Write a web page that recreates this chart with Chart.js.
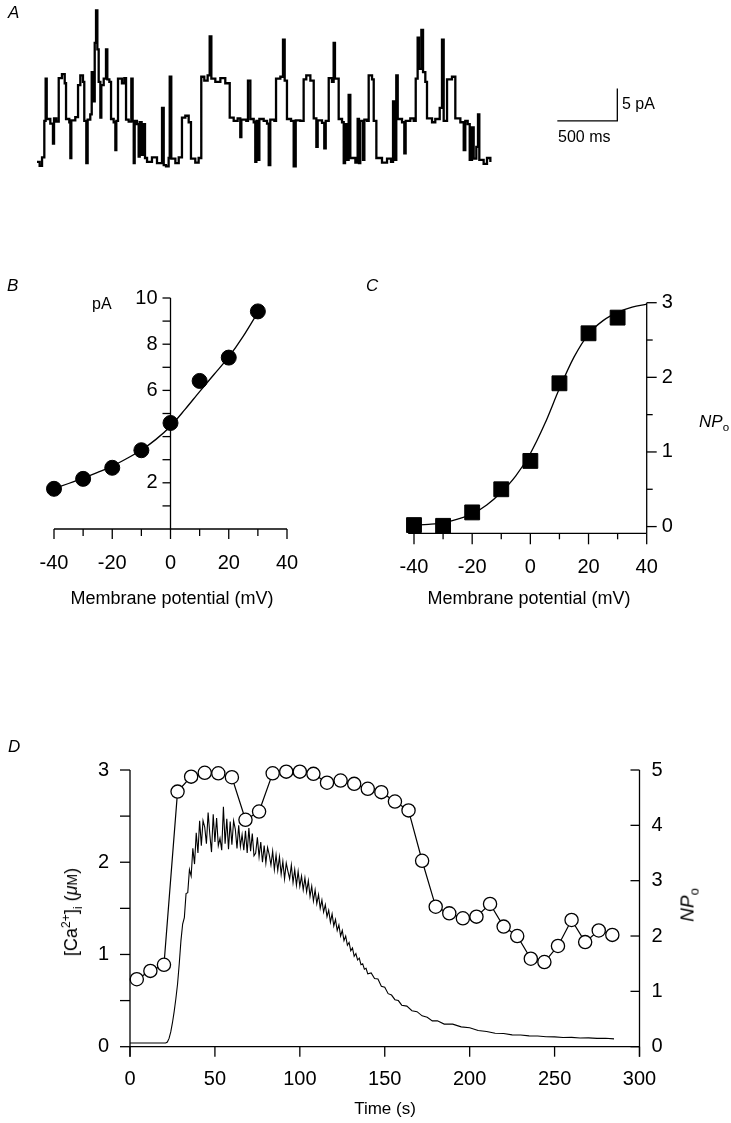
<!DOCTYPE html>
<html>
<head>
<meta charset="utf-8">
<script src="https://cdn.jsdelivr.net/npm/chart.js@4.4.1/dist/chart.umd.min.js"></script>
<style>
  body { margin: 0; background: #fff; width: 731px; height: 1123px; position: relative; overflow: hidden; font-family: "Liberation Sans", Arial, sans-serif; color: #000; }
  canvas { position: absolute; }
  .t { position: absolute; white-space: nowrap; line-height: 1; z-index: 2; }
  .t sup, .t sub { font-size: 68%; line-height: 0; }
  .lbl { font-style: italic; font-size: 17px; }
</style>
</head>
<body>
<canvas id="chartA" width="731" height="180" style="left:0;top:0"></canvas>
<canvas id="chartB" width="340" height="340" style="left:0;top:270px"></canvas>
<canvas id="chartC" width="391" height="340" style="left:340px;top:270px"></canvas>
<canvas id="chartD" width="731" height="403" style="left:0;top:720px"></canvas>

<div class="t lbl" style="left:8px;top:4px">A</div>
<div class="t" style="left:622px;top:96px;font-size:16px">5 pA</div>
<div class="t" style="left:558px;top:129px;font-size:16px">500 ms</div>

<div class="t lbl" style="left:7px;top:277px">B</div>
<div class="t" style="left:92px;top:296px;font-size:16px">pA</div>
<div class="t" style="left:172px;top:598px;font-size:18px;transform:translate(-50%,-50%)">Membrane potential (mV)</div>

<div class="t lbl" style="left:366px;top:277px">C</div>
<div class="t" style="left:699px;top:413px;font-size:17px"><i>NP</i><sub>o</sub></div>
<div class="t" style="left:529px;top:598px;font-size:18px;transform:translate(-50%,-50%)">Membrane potential (mV)</div>

<div class="t lbl" style="left:8px;top:738px">D</div>
<div class="t" style="left:71px;top:912px;font-size:18px;transform:translate(-50%,-50%) rotate(-90deg)">[Ca<sup>2+</sup>]<sub>i</sub> (<i>&mu;</i><span style="font-size:14px">M</span>)</div>
<div class="t" style="left:687px;top:905px;font-size:19px;transform:translate(-50%,-50%) rotate(-90deg)"><i>NP</i><sub>o</sub></div>
<div class="t" style="left:385px;top:1108px;font-size:17px;transform:translate(-50%,-50%)">Time (s)</div>

<script>
// A: single-channel record, dwell start times (ms) and current (pA)
const aTime = [0,22,42,61,72,81,111,133,142,161,181,208,231,242,269,278,286,319,342,361,383,394,411,422,444,456,467,481,492,503,514,528,536,556,575,586,603,617,639,653,661,675,708,728,742,764,786,797,806,814,833,847,856,872,883,900,917,958,1000,1042,1056,1075,1097,1106,1119,1153,1181,1208,1236,1264,1283,1319,1347,1369,1394,1422,1439,1453,1486,1528,1569,1606,1639,1672,1694,1703,1744,1758,1778,1806,1819,1828,1842,1853,1889,1917,1931,1944,1978,1992,2028,2050,2064,2083,2117,2139,2156,2194,2222,2244,2278,2306,2328,2339,2375,2394,2406,2431,2458,2472,2483,2514,2542,2556,2567,2578,2597,2611,2653,2672,2683,2694,2717,2728,2750,2764,2792,2806,2828,2875,2917,2950,2967,2978,2994,3006,3042,3061,3072,3111,3139,3156,3172,3183,3203,3217,3236,3250,3292,3319,3356,3375,3389,3417,3458,3486,3528,3556,3569,3589,3606,3625,3639,3661,3675,3686,3722,3750,3778];
const aCurrent = [-0.3,-0.9,0.4,6.0,12.5,6.3,5.6,2.5,6.4,5.9,12.6,13.2,11.8,6.3,5.8,0.3,6.1,6.6,11.5,13.0,12.0,6.0,-0.5,6.2,7.0,13.5,9.0,18.0,23.0,17.0,12.0,6.5,11.5,12.5,17.0,12.4,12.0,6.3,5.8,1.5,6.0,12.5,11.8,12.6,6.2,5.9,12.5,6.0,-0.5,6.0,5.5,0.5,5.8,0.8,5.5,0.3,-0.3,0.4,-0.5,8.0,-0.8,-1.0,0.3,12.8,0.2,-0.5,0.4,6.5,6.8,5.8,0.2,-0.4,0.3,12.8,12.2,13.0,19.0,12.5,12.0,12.6,11.8,6.5,6.0,6.4,3.5,6.2,6.0,12.2,6.3,5.8,-0.3,6.0,0.0,6.3,6.0,5.6,-0.8,6.2,6.0,12.5,12.8,18.5,12.2,6.3,6.0,-1.0,6.1,6.0,12.4,13.0,12.2,6.4,2.0,6.1,5.7,1.8,6.0,12.6,12.0,18.0,12.5,6.3,5.8,-0.5,5.5,0.0,10.0,0.3,-0.4,6.3,-0.5,6.0,0.0,6.2,6.0,13.0,12.4,6.0,0.3,-0.4,0.2,-0.3,9.0,0.0,13.0,6.3,5.8,1.0,6.0,6.4,6.0,12.5,18.8,14.0,20.0,13.5,12.0,6.4,5.8,6.3,8.0,18.5,6.0,12.4,12.8,6.4,5.8,1.5,6.0,5.5,0.0,5.0,0.2,2.0,7.0,0.0,-0.6,0.3,-0.3];
// A: scale bar, 500 ms by 5 pA
const barTime = [4836, 4836, 4336];
const barCurrent = [11, 6, 6];

// B: unitary current vs membrane potential
const bVoltage = [-40, -30, -20, -10, 0, 10, 20, 30];
const bCurrent = [1.74, 2.17, 2.65, 3.41, 4.59, 6.41, 7.42, 9.42];
const bFitVoltage = [-40, -35, -30, -25, -20, -15, -10, -5, 0, 5, 10, 15, 20, 25, 30];
const bFitCurrent = [1.75, 1.97, 2.2, 2.45, 2.72, 3.05, 3.42, 3.88, 4.45, 5.18, 5.95, 6.7, 7.45, 8.35, 9.38];

// C: NPo vs membrane potential
const cVoltage = [-40, -30, -20, -10, 0, 10, 20, 30];
const cNPo = [0.02, 0.01, 0.19, 0.50, 0.88, 1.92, 2.59, 2.80];
const cFitVoltage = [-40, -35, -30, -25, -20, -15, -10, -5, 0, 5, 10, 15, 20, 25, 30, 35, 40];
const cFitNPo = [0.02, 0.03, 0.05, 0.1, 0.17, 0.29, 0.46, 0.68, 0.98, 1.38, 1.85, 2.27, 2.58, 2.76, 2.87, 2.94, 2.98];

// D: [Ca2+]i trace (s, uM) and NPo (s)
const caTime = [0,21,22,23,24,25,26,27,28,29,30,31,32,33,34,35,36,37,38,39,40,41,42,43,44,45,46,47,48,49,50,51,52,53,54,55,56,57,58,59,60,61,62,63,64,65,66,67,68,69,70,71,72,73,74,75,76,77,78,79,80,81,82,83,84,85,86,87,88,89,90,91,92,93,94,95,96,97,98,99,100,101,102,103,104,105,106,107,108,109,110,111,112,113,114,115,116,117,118,119,120,121,122,123,124,125,126,127,128,129,130,131,132,133,134,135,136,137,138,139,140,142,144,146,148,150,152,154,156,158,160,163,166,169,172,175,178,181,185,190,195,200,205,210,215,220,225,230,235,240,245,250,255,260,265,270,275,280,285];
const caConc = [0.04,0.04,0.05,0.09,0.16,0.26,0.38,0.52,0.68,0.9,1.15,1.33,1.40,1.66,1.67,1.92,1.85,2.15,1.98,2.32,2.10,2.45,2.18,2.45,2.38,2.20,2.54,2.30,2.11,2.52,2.22,2.48,2.18,2.26,2.13,2.60,2.20,2.47,2.14,2.44,2.19,2.45,2.36,2.15,2.40,2.17,2.30,2.13,2.34,2.10,2.37,2.12,2.31,2.07,2.10,2.27,2.06,2.22,2.00,2.18,1.99,2.16,2.08,1.97,2.12,1.92,2.08,1.91,2.06,1.87,2.01,1.82,1.99,1.90,1.82,1.97,1.78,1.92,1.75,1.90,1.74,1.85,1.70,1.83,1.68,1.80,1.63,1.74,1.58,1.70,1.55,1.65,1.50,1.59,1.46,1.54,1.41,1.48,1.35,1.44,1.31,1.38,1.26,1.32,1.20,1.26,1.15,1.20,1.10,1.13,1.04,1.07,0.98,1.01,0.94,0.96,0.89,0.90,0.84,0.85,0.79,0.80,0.74,0.735,0.655,0.645,0.575,0.56,0.51,0.50,0.45,0.44,0.39,0.38,0.335,0.32,0.28,0.28,0.245,0.245,0.215,0.205,0.175,0.165,0.145,0.143,0.128,0.127,0.117,0.116,0.108,0.106,0.099,0.101,0.095,0.096,0.09,0.091,0.085,0.084,0.08];
const npoTime = [4,12,20,28,36,44,52,60,68,76,84,92,100,108,116,124,132,140,148,156,164,172,180,188,196,204,212,220,228,236,244,252,260,268,276,284];
const npoValue = [1.22,1.37,1.48,4.61,4.88,4.95,4.94,4.87,4.10,4.25,4.94,4.97,4.97,4.93,4.77,4.81,4.75,4.66,4.60,4.43,4.27,3.36,2.53,2.41,2.32,2.35,2.58,2.17,2.00,1.59,1.53,1.82,2.29,1.89,2.10,2.02];

const xy = (xs, ys) => xs.map((x, i) => ({ x: x, y: ys[i] }));

// draws axis lines, tick marks and tick labels through the chart's own scales
const axesPlugin = {
  id: 'axes',
  afterDatasetsDraw(chart, args, opts) {
    const ctx = chart.ctx;
    ctx.save();
    ctx.strokeStyle = '#000';
    ctx.fillStyle = '#000';
    ctx.lineWidth = 1.3;
    ctx.font = opts.font;
    (opts.list || []).forEach(ax => {
      const s = chart.scales[ax.scale];
      const c = chart.scales[ax.cross];
      const horiz = s.isHorizontal();
      const base = c.getPixelForValue(ax.at);
      const pt = (v, off) => horiz ? [s.getPixelForValue(v), base + off] : [base + off, s.getPixelForValue(v)];
      const seg = (a, b) => { ctx.beginPath(); ctx.moveTo(a[0], a[1]); ctx.lineTo(b[0], b[1]); ctx.stroke(); };
      seg(pt(ax.from, 0), pt(ax.to, 0));
      (ax.major || []).forEach(v => seg(pt(v, 0), pt(v, ax.side * ax.len)));
      (ax.minor || []).forEach(v => seg(pt(v, 0), pt(v, ax.side * ax.minorLen)));
      ctx.textAlign = horiz ? 'center' : (ax.labelSide < 0 ? 'right' : 'left');
      ctx.textBaseline = 'middle';
      (ax.labels || []).forEach(v => {
        const p = pt(v, ax.labelSide * ax.gap);
        ctx.fillText(String(v), p[0], p[1]);
      });
    });
    ctx.restore();
  }
};

const baseOptions = (padding, scales, axes, font) => ({
  responsive: false,
  animation: false,
  devicePixelRatio: 1,
  layout: { padding: padding },
  scales: scales,
  plugins: {
    legend: { display: false },
    tooltip: { enabled: false },
    axes: { list: axes, font: font }
  }
});

const tickFont = '20px "Liberation Sans", Arial, sans-serif';

new Chart(document.getElementById('chartA'), {
  type: 'line',
  data: {
    datasets: [
      { data: xy(aTime, aCurrent), stepped: true, borderColor: '#000', borderWidth: 2.3, pointRadius: 0, clip: false },
      { data: xy(barTime, barCurrent), borderColor: '#000', borderWidth: 1.3, pointRadius: 0, clip: false }
    ]
  },
  options: baseOptions({ left: 37, right: 91, top: 0, bottom: 0 }, {
    x: { type: 'linear', display: false, min: 0, max: 5025 },
    y: { type: 'linear', display: false, min: -3.08, max: 24.6 }
  }, [], tickFont),
  plugins: [axesPlugin]
});

new Chart(document.getElementById('chartB'), {
  type: 'line',
  data: {
    datasets: [
      { data: xy(bVoltage, bCurrent), showLine: false, pointRadius: 7.5, pointBackgroundColor: '#000', pointBorderColor: '#000', clip: false },
      { data: xy(bFitVoltage, bFitCurrent), borderColor: '#000', borderWidth: 1.3, pointRadius: 0, cubicInterpolationMode: 'monotone', clip: false }
    ]
  },
  options: baseOptions({ left: 54, right: 53, top: 28, bottom: 81 }, {
    x: { type: 'linear', display: false, min: -40, max: 40 },
    y: { type: 'linear', display: false, min: 0, max: 10 }
  }, [
    { scale: 'x', cross: 'y', at: 0, from: -40, to: 40, side: 1, len: 10, minorLen: 7,
      major: [-40, -20, 0, 20, 40], minor: [-30, -10, 10, 30], labels: [-40, -20, 0, 20, 40], labelSide: 1, gap: 34 },
    { scale: 'y', cross: 'x', at: 0, from: 0, to: 10, side: -1, len: 8, minorLen: 8,
      major: [2, 4, 6, 8, 10], minor: [1, 3, 5, 7, 9], labels: [2, 6, 8, 10], labelSide: -1, gap: 13 }
  ], tickFont),
  plugins: [axesPlugin]
});

new Chart(document.getElementById('chartC'), {
  type: 'line',
  data: {
    datasets: [
      { data: xy(cVoltage, cNPo), showLine: false, pointStyle: 'rect', pointRadius: 10.5, pointBackgroundColor: '#000', pointBorderColor: '#000', clip: false },
      { data: xy(cFitVoltage, cFitNPo), borderColor: '#000', borderWidth: 1.3, pointRadius: 0, cubicInterpolationMode: 'monotone', clip: false }
    ]
  },
  options: baseOptions({ left: 74, right: 84.3, top: 32.7, bottom: 76.7 }, {
    x: { type: 'linear', display: false, min: -40, max: 40 },
    y: { type: 'linear', display: false, min: -0.09, max: 3 }
  }, [
    { scale: 'x', cross: 'y', at: -0.09, from: -42, to: 40, side: 1, len: 11, minorLen: 6,
      major: [-40, -20, 0, 20, 40], minor: [-30, -10, 10, 30], labels: [-40, -20, 0, 20, 40], labelSide: 1, gap: 34 },
    { scale: 'y', cross: 'x', at: 40, from: -0.09, to: 3, side: 1, len: 10, minorLen: 6,
      major: [0, 1, 2, 3], minor: [0.5, 1.5, 2.5], labels: [0, 1, 2, 3], labelSide: 1, gap: 15 }
  ], tickFont),
  plugins: [axesPlugin]
});

new Chart(document.getElementById('chartD'), {
  type: 'line',
  data: {
    datasets: [
      { data: xy(npoTime, npoValue), yAxisID: 'y2', order: 0, borderColor: '#000', borderWidth: 1.2,
        pointRadius: 6.6, pointBackgroundColor: '#fff', pointBorderColor: '#000', pointBorderWidth: 1.3, clip: false },
      { data: xy(caTime, caConc), yAxisID: 'y', order: 1, borderColor: '#000', borderWidth: 1.1, pointRadius: 0, clip: false }
    ]
  },
  options: baseOptions({ left: 130, right: 91.5, top: 50, bottom: 76.3 }, {
    x: { type: 'linear', display: false, min: 0, max: 300 },
    y: { type: 'linear', display: false, min: 0, max: 3 },
    y2: { type: 'linear', display: false, position: 'right', min: 0, max: 5 }
  }, [
    { scale: 'x', cross: 'y', at: 0, from: 0, to: 300, side: 1, len: 10, minorLen: 10,
      major: [0, 50, 100, 150, 200, 250, 300], labels: [0, 50, 100, 150, 200, 250, 300], labelSide: 1, gap: 33 },
    { scale: 'y', cross: 'x', at: 0, from: -0.11, to: 3, side: -1, len: 10, minorLen: 10,
      major: [0, 1, 2, 3], minor: [0.5, 1.5, 2.5], labels: [0, 1, 2, 3], labelSide: -1, gap: 21 },
    { scale: 'y2', cross: 'x', at: 300, from: -0.18, to: 5, side: -1, len: 9, minorLen: 9,
      major: [0, 1, 2, 3, 4, 5], labels: [0, 1, 2, 3, 4, 5], labelSide: 1, gap: 12 }
  ], tickFont),
  plugins: [axesPlugin]
});
</script>
</body>
</html>
